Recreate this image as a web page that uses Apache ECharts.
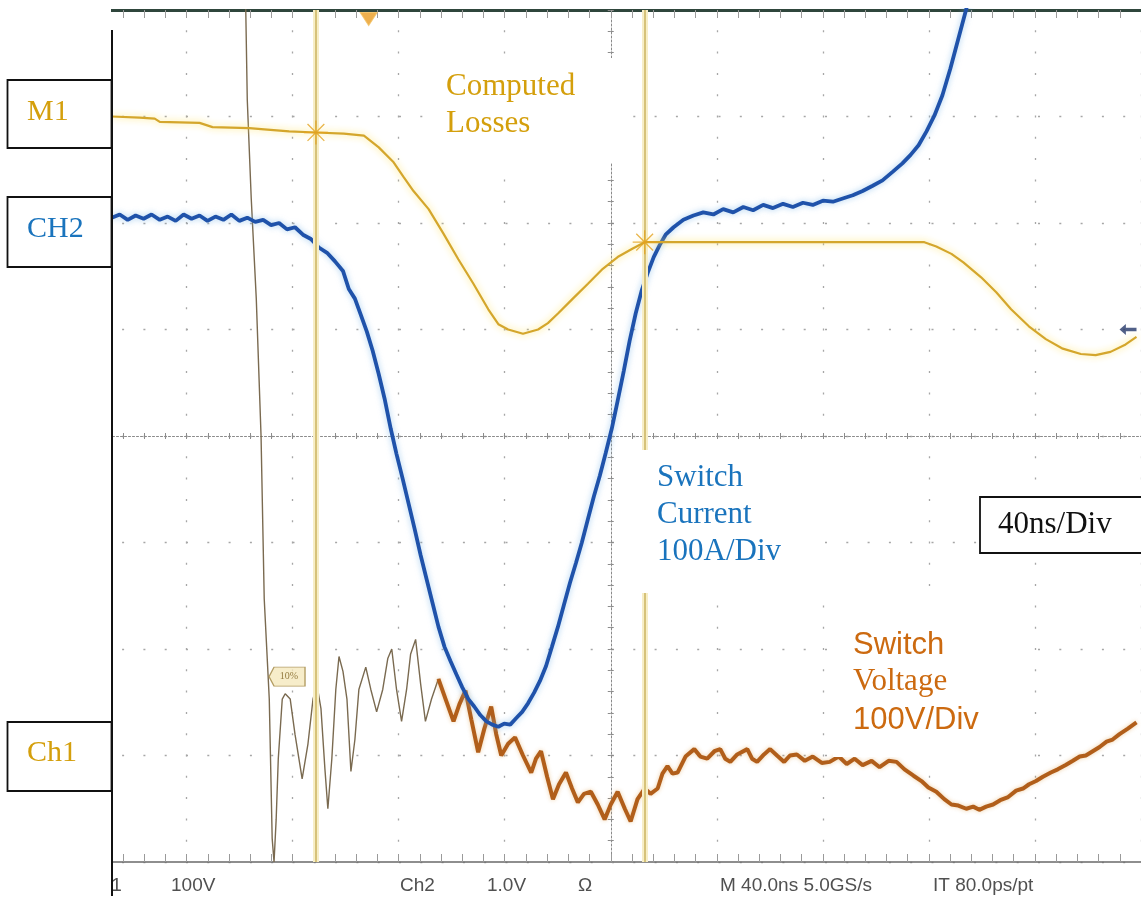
<!DOCTYPE html>
<html>
<head>
<meta charset="utf-8">
<script src="https://cdn.jsdelivr.net/npm/echarts@6/dist/echarts.min.js"></script>
<style>
  html, body { margin: 0; padding: 0; background: #fff; }
  #chart { width: 1141px; height: 898px; }
</style>
</head>
<body>
<div id="chart"></div>
<script>
// Horizontal: time in ns (40 ns/div, 0 = screen centre). Vertical: screen divisions (+/-4).

// M1: computed switching losses (math trace)
const m1Time = [-188.2, -177.7, -172.0, -170.1, -155.1, -150.2, -136.3, -130.7, -121.3, -111.2,
  -100.7, -93.1, -87.5, -81.9, -78.1, -74.4, -68.7, -63.1, -57.5, -51.8,
  -46.2, -42.4, -38.7, -33.1, -27.4, -23.7, -19.9, -14.3, -8.6, -3.0,
  2.6, 8.3, 12.8, 118.3, 122.8, 128.5, 133.0, 139.7, 145.4, 151.0,
  157.7, 164.1, 170.5, 177.3, 182.9, 188.5, 194.2, 198.3];
const m1Div = [3.00, 2.99, 2.98, 2.95, 2.94, 2.90, 2.89, 2.88, 2.86, 2.85,
  2.84, 2.82, 2.71, 2.57, 2.43, 2.30, 2.13, 1.90, 1.66, 1.43,
  1.19, 1.05, 1.00, 0.96, 1.00, 1.06, 1.15, 1.29, 1.43, 1.57,
  1.68, 1.76, 1.82, 1.82, 1.78, 1.71, 1.63, 1.49, 1.35, 1.19,
  1.03, 0.91, 0.82, 0.77, 0.76, 0.79, 0.86, 0.93];

// CH2: switch current, 100 A/div
const ch2Time = [-188.2, -185.2, -182.2, -179.2, -176.2, -173.2, -170.1, -167.1, -164.1, -161.1,
  -158.1, -155.1, -152.1, -149.1, -146.1, -143.1, -140.1, -137.1, -134.1, -131.1,
  -128.1, -125.1, -122.1, -119.1, -116.1, -113.1, -110.1, -107.0, -104.0, -101.0,
  -98.8, -96.5, -94.3, -92.0, -89.8, -87.5, -85.3, -83.0, -80.8, -78.5,
  -76.2, -74.0, -71.7, -69.5, -67.2, -65.0, -62.7, -60.5, -58.2, -56.0,
  -53.7, -51.5, -49.2, -46.9, -44.7, -42.4, -40.2, -37.9, -35.7, -33.4,
  -31.2, -28.9, -26.7, -24.4, -22.2, -19.9, -17.7, -15.4, -13.1, -10.9,
  -8.6, -6.4, -4.1, -1.9, 0.4, 2.6, 4.9, 7.1, 9.4, 11.6,
  13.9, 16.2, 18.4, 20.7, 23.7, 27.4, 31.2, 34.9, 38.7, 42.4,
  46.2, 50.0, 53.7, 57.5, 61.2, 65.0, 68.7, 72.5, 76.2, 80.0,
  83.8, 87.5, 91.3, 95.0, 98.8, 102.5, 106.3, 110.0, 113.1, 116.1,
  119.1, 122.1, 125.1, 128.1, 131.1, 134.1, 137.1];
const ch2Div = [2.05, 2.08, 2.03, 2.07, 2.04, 2.08, 2.03, 2.06, 2.02, 2.08,
  2.04, 2.07, 2.02, 2.06, 2.03, 2.08, 2.02, 2.05, 2.01, 2.03,
  1.98, 2.00, 1.94, 1.96, 1.89, 1.85, 1.77, 1.72, 1.64, 1.55,
  1.38, 1.29, 1.14, 0.98, 0.80, 0.58, 0.35, 0.07, -0.17, -0.40,
  -0.64, -0.87, -1.12, -1.34, -1.57, -1.79, -1.98, -2.11, -2.24, -2.36,
  -2.47, -2.54, -2.62, -2.68, -2.71, -2.73, -2.70, -2.71, -2.65, -2.59,
  -2.51, -2.41, -2.30, -2.16, -1.98, -1.79, -1.59, -1.38, -1.19, -1.00,
  -0.78, -0.57, -0.37, -0.16, 0.07, 0.33, 0.61, 0.89, 1.15, 1.36,
  1.53, 1.68, 1.79, 1.89, 1.96, 2.03, 2.07, 2.10, 2.08, 2.13,
  2.10, 2.15, 2.12, 2.17, 2.14, 2.18, 2.15, 2.19, 2.17, 2.21,
  2.20, 2.23, 2.26, 2.30, 2.35, 2.40, 2.48, 2.56, 2.64, 2.73,
  2.86, 3.01, 3.20, 3.45, 3.73, 4.01, 4.29];

// CH1: switch voltage, 100 V/div - fast falling edge and first ringing
const ch1EdgeTime = [-137.8, -137.1, -135.6, -133.7, -131.9, -130.7, -128.8, -127.7, -127.0, -126.2,
  -125.4, -123.9, -122.8, -120.9, -119.1, -116.4, -114.2, -112.3, -110.8, -109.3,
  -107.8, -106.7, -105.2, -103.7, -102.5, -101.0, -99.5, -98.0, -96.5, -95.0,
  -92.4, -90.5, -88.3, -86.0, -84.1, -82.6, -80.8, -78.9, -77.0, -75.5,
  -73.6, -71.7, -69.9, -67.6, -65.0];
const ch1EdgeDiv = [4.20, 3.16, 2.23, 1.29, 0.00, -1.53, -2.47, -3.78, -4.00, -3.60,
  -3.03, -2.47, -2.42, -2.47, -2.80, -3.22, -2.89, -2.47, -2.34, -2.56,
  -3.13, -3.50, -3.03, -2.38, -2.07, -2.21, -2.47, -3.15, -2.85, -2.38,
  -2.17, -2.38, -2.59, -2.38, -2.09, -2.00, -2.38, -2.68, -2.38, -2.05,
  -1.91, -2.33, -2.68, -2.47, -2.28];

// CH1: switch voltage, settled part
const ch1Time = [-65.0, -62.3, -59.3, -57.1, -54.8, -52.6, -50.0, -47.7, -45.1, -43.2,
  -41.3, -38.7, -36.1, -33.1, -30.0, -28.2, -26.3, -24.0, -21.8, -19.5,
  -16.9, -14.6, -12.4, -10.1, -7.5, -4.9, -2.3, 0.0, 2.6, 5.3,
  7.5, 10.1, 12.8, 15.0, 17.7, 19.5, 21.4, 23.3, 25.2, 28.2,
  31.5, 33.8, 36.4, 39.1, 41.3, 43.2, 45.1, 47.7, 51.5, 53.3,
  55.2, 57.8, 60.1, 62.7, 65.4, 67.6, 70.2, 73.2, 76.2, 79.6,
  82.6, 86.0, 89.0, 92.0, 95.0, 98.4, 101.4, 104.8, 107.8, 110.8,
  114.2, 117.2, 119.8, 122.8, 125.8, 128.5, 131.1, 134.1, 136.7, 139.0,
  141.6, 144.2, 146.9, 149.9, 152.9, 155.5, 157.8, 160.4, 163.0, 166.0,
  168.6, 171.6, 174.3, 176.9, 179.2, 181.8, 184.4, 187.0, 189.3, 191.9,
  194.9, 198.3];
const ch1Div = [-2.28, -2.47, -2.68, -2.52, -2.39, -2.66, -2.97, -2.75, -2.54, -2.80,
  -3.00, -2.89, -2.83, -3.00, -3.16, -3.03, -2.96, -3.20, -3.41, -3.27,
  -3.16, -3.31, -3.44, -3.36, -3.34, -3.46, -3.60, -3.46, -3.34, -3.50,
  -3.62, -3.41, -3.31, -3.36, -3.31, -3.17, -3.10, -3.17, -3.16, -3.01,
  -2.94, -3.01, -3.03, -2.96, -2.94, -3.03, -3.06, -2.99, -2.94, -3.03,
  -3.06, -2.99, -2.94, -3.00, -3.06, -3.00, -2.99, -3.05, -3.01, -3.07,
  -3.06, -3.01, -3.08, -3.03, -3.09, -3.05, -3.11, -3.05, -3.06, -3.13,
  -3.19, -3.24, -3.30, -3.34, -3.41, -3.46, -3.47, -3.50, -3.48, -3.51,
  -3.48, -3.46, -3.42, -3.39, -3.33, -3.31, -3.27, -3.24, -3.20, -3.16,
  -3.13, -3.09, -3.05, -3.01, -3.00, -2.96, -2.92, -2.87, -2.85, -2.80,
  -2.75, -2.69];

// Measurement cursors (ns), trigger position, reference markers
const cursorTimes = [-111.2, 12.8];
const triggerTime = -91.3;
const refLevelTime = -122.1;
const refLevelDiv = -2.26;
const refLevelText = '10%';
const m1GroundDiv = 1.0;

// Axis frame: 10 divisions across, 8 divisions tall
const timeRange = [-200, 200];
const timePerDiv = 40;
const divRange = [-4, 4];

// Labels
const channelTags = ['M1', 'CH2', 'Ch1'];
const readouts = ['Ch1', '100V', 'Ch2', '1.0V', '\u03a9', 'M 40.0ns 5.0GS/s', 'IT 80.0ps/pt'];
const lossLabel = ['Computed', 'Losses'];
const currentLabel = ['Switch', 'Current', '100A/Div'];
const voltageLabel = ['Switch', 'Voltage', '100V/Div'];
const timebaseLabel = '40ns/Div';

const pairs = (ts, vs) => ts.map((t, i) => [t, vs[i]]);
const cursorMarks = cursorTimes.map(t => [t, m1Div[m1Time.indexOf(t)]]);

const SERIF = '"Liberation Serif", "Times New Roman", serif';
const SANS = '"Liberation Sans", Arial, sans-serif';
const GOLD = '#d49f0c';
const BLUE = '#1a74bd';
const ORANGE = '#cc6a10';
const READOUT = '19px ' + SANS;
const READ_COL = '#505050';

const gridDots = { color: '#a6a6a6', width: 1.3, type: [2, 19.3], dashOffset: 1 };
const minorLen = 3;

const chart = echarts.init(document.getElementById('chart'), null, { renderer: 'canvas' });

function textEl(text, x, y, font, fill, z) {
  return { type: 'text', z: z || 120, style: { text: text, x: x, y: y, font: font, fill: fill, align: 'left', verticalAlign: 'middle' } };
}
function boxEl(x, y, w, h, stroke) {
  return { type: 'rect', z: 110, shape: { x: x, y: y, width: w, height: h },
    style: { fill: '#ffffff', stroke: stroke || null, lineWidth: stroke ? 1.8 : 0 } };
}

const graphics = [
  // readout partly hidden behind the left panel
  textEl(readouts[0], 87, 886, READOUT, READ_COL, 90),
  // left panel and frame
  { type: 'rect', z: 100, shape: { x: 0, y: 0, width: 111, height: 898 }, style: { fill: '#ffffff' } },
  { type: 'line', z: 111, shape: { x1: 112, y1: 30, x2: 112, y2: 896 }, style: { stroke: '#111', lineWidth: 2 } },
  boxEl(7.5, 80, 104, 68, '#111'),
  boxEl(7.5, 197, 104, 70, '#111'),
  boxEl(7.5, 722, 104, 69, '#111'),
  textEl(channelTags[0], 27, 112, '30px ' + SERIF, GOLD),
  textEl(channelTags[1], 27, 229, '30px ' + SERIF, BLUE),
  textEl(channelTags[2], 27, 753, '30px ' + SERIF, GOLD),
  // annotation boxes
  boxEl(432, 58, 198, 105),
  textEl(lossLabel[0], 446, 87, '31px ' + SERIF, GOLD),
  textEl(lossLabel[1], 446, 124, '31px ' + SERIF, GOLD),
  boxEl(632, 450, 193, 143),
  textEl(currentLabel[0], 657, 478, '31px ' + SERIF, BLUE),
  textEl(currentLabel[1], 657, 515, '31px ' + SERIF, BLUE),
  textEl(currentLabel[2], 657, 552, '31px ' + SERIF, BLUE),
  boxEl(833, 600, 187, 157),
  textEl(voltageLabel[0], 853, 645, '31px ' + SANS, ORANGE),
  textEl(voltageLabel[1], 853, 682, '31px ' + SERIF, ORANGE),
  textEl(voltageLabel[2], 853, 720, '31px ' + SANS, ORANGE),
  boxEl(980, 497, 170, 56, '#111'),
  textEl(timebaseLabel, 998, 525, '31px ' + SERIF, '#111'),
  // scope readout row
  textEl(readouts[1], 171, 886, READOUT, READ_COL),
  textEl(readouts[2], 400, 886, READOUT, READ_COL),
  textEl(readouts[3], 487, 886, READOUT, READ_COL),
  textEl(readouts[4], 578, 886, READOUT, READ_COL),
  textEl(readouts[5], 720, 886, READOUT, READ_COL),
  textEl(readouts[6], 933, 886, READOUT, READ_COL)
];

function centreAxis(dimPos, extra) {
  return Object.assign({
    type: 'value', min: timeRange[0], max: timeRange[1], interval: timePerDiv,
    axisLabel: { show: false }, splitLine: { show: false },
    axisTick: { show: true, inside: false, length: minorLen, lineStyle: { color: '#8c8c8c' } },
    minorTick: { show: true, splitNumber: 5, length: minorLen, lineStyle: { color: '#8c8c8c' } },
    position: dimPos
  }, extra);
}

const option = {
  animation: false,
  backgroundColor: '#ffffff',
  grid: { left: 80.5, right: -4.5, top: 10, bottom: 36 },
  xAxis: [
    centreAxis('bottom', {
      axisLine: { show: true, onZero: true, onZeroAxisIndex: 0, lineStyle: { color: '#8a8a8a', width: 1, type: [2, 2] } },
      splitLine: { show: true, lineStyle: gridDots }
    }),
    centreAxis('top', { axisLine: { show: false, onZero: true, onZeroAxisIndex: 0 } }),
    centreAxis('top', {
      axisLine: { show: true, onZero: false, lineStyle: { color: '#2f463c', width: 3 } },
      axisTick: { show: true, inside: true, length: 8, lineStyle: { color: '#9a9a9a' } },
      minorTick: { show: true, splitNumber: 5, length: 8, lineStyle: { color: '#9a9a9a' } }
    }),
    centreAxis('bottom', {
      axisLine: { show: true, onZero: false, lineStyle: { color: '#6a6a6a', width: 1.5 } },
      axisTick: { show: true, inside: true, length: 8, lineStyle: { color: '#9a9a9a' } },
      minorTick: { show: true, splitNumber: 5, length: 8, lineStyle: { color: '#9a9a9a' } }
    })
  ],
  yAxis: [
    {
      type: 'value', min: divRange[0], max: divRange[1], interval: 1, position: 'left',
      axisLabel: { show: false },
      axisLine: { show: true, onZero: true, onZeroAxisIndex: 0, lineStyle: { color: '#8a8a8a', width: 1, type: [2, 2] } },
      axisTick: { show: true, inside: false, length: minorLen, lineStyle: { color: '#8c8c8c' } },
      minorTick: { show: true, splitNumber: 5, length: minorLen, lineStyle: { color: '#8c8c8c' } },
      splitLine: { show: true, lineStyle: gridDots }
    },
    {
      type: 'value', min: divRange[0], max: divRange[1], interval: 1, position: 'right',
      axisLabel: { show: false },
      axisLine: { show: false, onZero: true, onZeroAxisIndex: 0 },
      axisTick: { show: true, inside: false, length: minorLen, lineStyle: { color: '#8c8c8c' } },
      minorTick: { show: true, splitNumber: 5, length: minorLen, lineStyle: { color: '#8c8c8c' } },
      splitLine: { show: false }
    }
  ],
  series: [
    { // cursor glow
      type: 'line', data: [], z: 1, silent: true,
      markLine: { silent: true, symbol: ['none', 'none'], label: { show: false },
        lineStyle: { color: '#f7eec6', width: 6, type: 'solid' },
        data: cursorTimes.map(t => ({ xAxis: t })) }
    },
    { // cursor core
      type: 'line', data: [], z: 1, silent: true,
      markLine: { silent: true, symbol: ['none', 'none'], label: { show: false },
        lineStyle: { color: '#cdb766', width: 1.6, type: 'solid' },
        data: cursorTimes.map(t => ({ xAxis: t })) }
    },
    {
      name: 'M1', type: 'line', data: pairs(m1Time, m1Div), showSymbol: false, z: 5,
      lineStyle: { color: '#d4a62c', width: 2.2, shadowColor: 'rgba(255,228,100,0.95)', shadowBlur: 7 }
    },
    {
      name: 'CH1 edge', type: 'line', data: pairs(ch1EdgeTime, ch1EdgeDiv), showSymbol: false, z: 3,
      lineStyle: { color: '#7a6a50', width: 1.4 }
    },
    {
      name: 'CH1', type: 'line', data: pairs(ch1Time, ch1Div), showSymbol: false, z: 3,
      lineStyle: { color: '#b15e1a', width: 4, shadowColor: 'rgba(220,150,60,0.45)', shadowBlur: 4 }
    },
    {
      name: 'CH2', type: 'line', data: pairs(ch2Time, ch2Div), showSymbol: false, z: 4,
      lineStyle: { color: '#1f52aa', width: 3.8, shadowColor: 'rgba(110,175,230,0.6)', shadowBlur: 6 }
    },
    { // cursor crossings on M1
      type: 'scatter', data: cursorMarks, z: 6, silent: true,
      symbol: 'path://M0,6L12,6M6,0L6,12M1.8,1.8L10.2,10.2M10.2,1.8L1.8,10.2',
      symbolSize: 24,
      itemStyle: { color: 'rgba(0,0,0,0)', borderColor: '#e3a21e', borderWidth: 1.3 }
    },
    { // trigger position
      type: 'scatter', data: [[triggerTime, divRange[1]]], z: 6, silent: true,
      symbol: 'triangle', symbolRotate: 180, symbolSize: [17, 13], symbolOffset: [0, 9],
      itemStyle: { color: '#e99b22', borderColor: '#f3c060', borderWidth: 1 }
    },
    { // reference level tag
      type: 'scatter', data: [[refLevelTime, refLevelDiv]], z: 7, silent: true,
      symbol: 'path://M0,5L5,0L36,0L36,10L5,10Z', symbolSize: [36, 19],
      itemStyle: { color: '#f5e9bd', borderColor: '#a08642', borderWidth: 1 },
      label: { show: true, position: 'inside', formatter: refLevelText, offset: [2, 0],
        fontSize: 10, fontFamily: SERIF, color: '#7a5e1c' }
    },
    { // M1 ground arrow
      type: 'scatter', data: [[timeRange[1], m1GroundDiv]], z: 7, silent: true,
      symbol: 'path://M0,5L6,0L6,3.5L16,3.5L16,6.5L6,6.5L6,10Z', symbolSize: [17, 11], symbolOffset: [-13, 0],
      itemStyle: { color: '#25386a' }
    }
  ],
  graphic: { elements: graphics }
};

chart.setOption(option);
</script>
</body>
</html>
